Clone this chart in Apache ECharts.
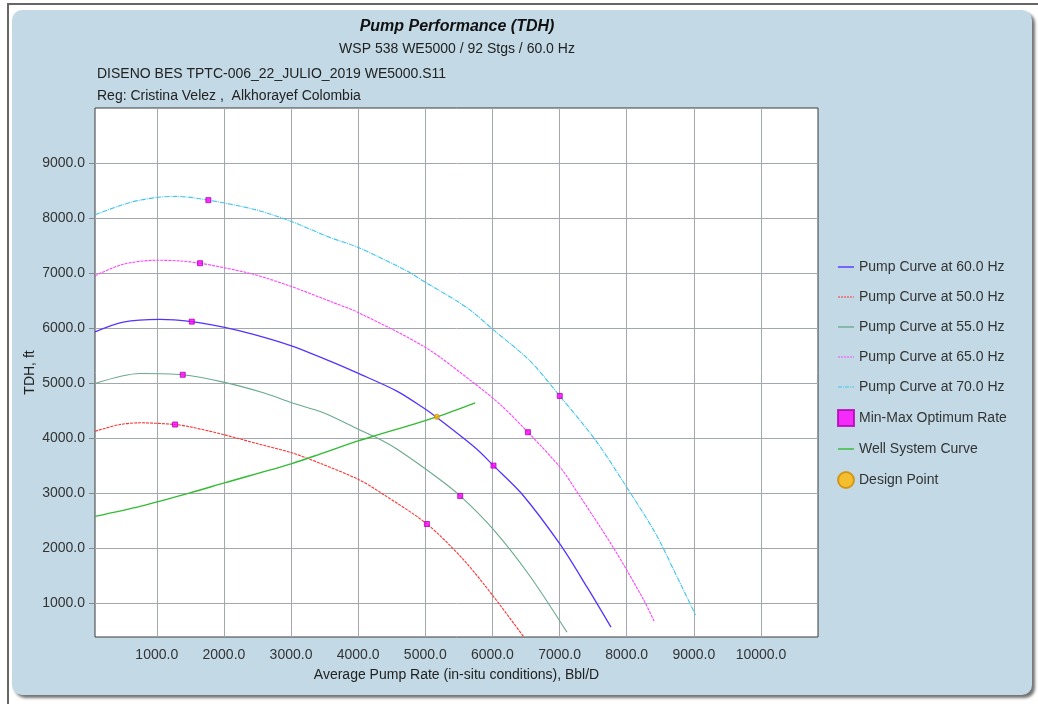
<!DOCTYPE html>
<html><head><meta charset="utf-8">
<script src="https://cdn.jsdelivr.net/npm/echarts@6/dist/echarts.min.js"></script>
<style>
html,body{margin:0;padding:0;background:#fff;width:1038px;height:704px;overflow:hidden;}
#frame{position:absolute;left:7px;top:3px;width:1031px;height:701px;border-left:2px solid #666;border-top:2px solid #666;box-sizing:border-box;}
#card{position:absolute;left:12px;top:10px;width:1020px;height:685px;background:#c3dae6;border-radius:10px;box-shadow:3px 3px 3px rgba(0,0,0,0.55);}
#chart{position:absolute;left:0;top:0;width:1038px;height:704px;}
</style></head>
<body><div id="frame"></div><div id="card"></div><div id="chart"></div>
<script>
const FONT = "'Liberation Sans', Arial, sans-serif";

const titleMain = 'Pump Performance (TDH)';
const titleSub = 'WSP 538 WE5000 / 92 Stgs / 60.0 Hz';
const titleLine3 = 'DISENO BES TPTC-006_22_JULIO_2019 WE5000.S11';
const titleLine4 = 'Reg: Cristina Velez ,  Alkhorayef Colombia';
const xAxisName = 'Average Pump Rate (in-situ conditions), Bbl/D';
const yAxisName = 'TDH, ft';

const xTicks = [1000, 2000, 3000, 4000, 5000, 6000, 7000, 8000, 9000, 10000];
const yTicks = [1000, 2000, 3000, 4000, 5000, 6000, 7000, 8000, 9000];

const seriesNames = ['Pump Curve at 60.0 Hz', 'Pump Curve at 50.0 Hz', 'Pump Curve at 55.0 Hz',
  'Pump Curve at 65.0 Hz', 'Pump Curve at 70.0 Hz', 'Min-Max Optimum Rate', 'Well System Curve', 'Design Point'];

const curve60 = [[80,5930],[500,6108],[1050,6157],[1522,6115],[1993,6016],[2440,5883],[2984,5683],[3580,5397],
  [4004,5173],[4577,4851],[5009,4517],[5147,4395],[5744,3820],[6016,3497],[6440,2980],[7012,2058],[7408,1290],[7766,559]];
const curve50 = [[80,4122],[453,4244],[751,4275],[1273,4244],[1496,4202],[1993,4062],[2490,3898],[3012,3729],
  [3483,3515],[4010,3242],[4328,3011],[5024,2435],[5569,1785],[6016,1117],[6463,388]];
const curve55 = [[80,4991],[751,5173],[1387,5149],[1993,5015],[2589,4821],[3012,4639],[3483,4457],[4010,4153],
  [4279,4002],[4587,3789],[5177,3280],[5520,2945],[6016,2332],[6563,1481],[7110,468]];
const curve65 = [[80,6950],[500,7158],[1000,7231],[1347,7219],[1645,7177],[1993,7098],[2440,6976],[2984,6763],
  [3632,6461],[4004,6279],[5009,5641],[5718,5004],[6116,4608],[6529,4104],[7012,3460],[7260,3020],[7805,1998],[8252,1056],[8412,661]];
const curve70 = [[80,8060],[600,8282],[1000,8373],[1300,8392],[1769,8324],[2440,8160],[2984,7947],[3580,7645],
  [4004,7463],[4726,7036],[5009,6825],[5620,6370],[6007,5974],[6560,5400],[7003,4764],[7533,3964],[7979,3145],[8425,2273],[8722,1545],[9025,780]];
const optimumRate = [[1273,4244],[5024,2435],[1387,5149],[5520,2945],[1522,6115],[6016,3497],
  [1645,7177],[6529,4104],[1769,8324],[7003,4764]];
const wellCurve = [[80,2574],[751,2756],[1496,3000],[2007,3182],[3012,3534],[3483,3729],[4010,3950],
  [4279,4050],[5172,4384],[5744,4639]];
const designPoint = [[5172,4384]];

const chart = echarts.init(document.getElementById('chart'), null, {renderer:'canvas'});

function lineSeries(name, data, color, width, type) {
  return {
    name: name, type: 'line', data: data, showSymbol: false, symbol: 'none',
    smooth: 0.3,
    lineStyle: {color: color, width: width, type: type},
    itemStyle: {color: color}, z: 3
  };
}

const iconSolid = 'path://M0,0 L16,0 L16,1.4 L0,1.4 Z';
const iconDotted = 'path://M0,0h2v1.2h-2z M3,0h2v1.2h-2z M6,0h2v1.2h-2z M9,0h2v1.2h-2z M12,0h2v1.2h-2z M15,0h1v1.2h-1z';
const iconDashDot = 'path://M0,0h4v1.2h-4z M5,0h1v1.2h-1z M7,0h4v1.2h-4z M12,0h1v1.2h-1z M14,0h2v1.2h-2z';

const option = {
  animation: false,
  textStyle: {fontFamily: FONT},
  graphic: [
    {type:'text', x:457, y:27, style:{text:titleMain, fill:'#111', font:'italic bold 16px ' + FONT, textAlign:'center', textVerticalAlign:'middle'}},
    {type:'text', x:457, y:49, style:{text:titleSub, fill:'#222', font:'14px ' + FONT, textAlign:'center', textVerticalAlign:'middle'}},
    {type:'text', x:97, y:74, style:{text:titleLine3, fill:'#222', font:'14px ' + FONT, textAlign:'left', textVerticalAlign:'middle'}},
    {type:'text', x:97, y:96, style:{text:titleLine4, fill:'#222', font:'14px ' + FONT, textAlign:'left', textVerticalAlign:'middle'}}
  ],
  grid: {left:95, top:108, width:723, height:529, show:true, backgroundColor:'#ffffff', borderColor:'#3a3a3a', borderWidth:1},
  legend: {
    orient:'vertical', left:832, top:254, itemWidth:16, itemHeight:16, itemGap:14,
    symbolKeepAspect:true,
    textStyle:{fontSize:14, color:'#333', fontFamily:FONT, lineHeight:16},
    data: [
      {name:seriesNames[0], icon:iconSolid}, {name:seriesNames[1], icon:iconDotted}, {name:seriesNames[2], icon:iconSolid},
      {name:seriesNames[3], icon:iconDotted}, {name:seriesNames[4], icon:iconDashDot},
      {name:seriesNames[5], icon:'rect'}, {name:seriesNames[6], icon:iconSolid}, {name:seriesNames[7], icon:'circle'}
    ],
    selectedMode:false
  },
  xAxis: {
    type:'value', min:80, max:10850,
    name:xAxisName, nameLocation:'middle', nameGap:31, nameMoveOverlap:false,
    nameTextStyle:{fontSize:14, color:'#222', fontFamily:FONT},
    axisLine:{show:false},
    axisTick:{show:false, customValues:xTicks},
    axisLabel:{customValues:xTicks, formatter:(v)=>Number(v).toFixed(1), fontSize:14, color:'#333', margin:11},
    splitLine:{show:true, lineStyle:{color:'#a3a8ad', width:1}}
  },
  yAxis: {
    type:'value', min:380, max:10000,
    name:yAxisName, nameLocation:'middle', nameGap:58, nameMoveOverlap:false,
    nameTextStyle:{fontSize:14, color:'#222', fontFamily:FONT},
    axisLine:{show:false},
    axisTick:{show:true, length:6, customValues:yTicks, lineStyle:{color:'#888'}},
    axisLabel:{customValues:yTicks, formatter:(v)=>Number(v).toFixed(1), fontSize:14, color:'#333', margin:10},
    splitLine:{show:true, lineStyle:{color:'#a3a8ad', width:1}}
  },
  series: [
    lineSeries(seriesNames[0], curve60, '#5533ff', 1.3, 'solid'),
    lineSeries(seriesNames[1], curve50, '#ff3333', 1.1, [3,1]),
    lineSeries(seriesNames[2], curve55, '#6aaa8c', 1.1, 'solid'),
    lineSeries(seriesNames[3], curve65, '#ff44ff', 1.1, [3,1]),
    lineSeries(seriesNames[4], curve70, '#3ec4f0', 1.1, [5,1,1,1]),
    {name:seriesNames[5], type:'scatter', data:optimumRate, symbol:'rect', symbolSize:5,
     itemStyle:{color:'#ff00ff', borderColor:'#b000b0', borderWidth:1}, z:5},
    lineSeries(seriesNames[6], wellCurve, '#33bb33', 1.4, 'solid'),
    {name:seriesNames[7], type:'scatter', data:designPoint, symbol:'circle', symbolSize:5,
     itemStyle:{color:'#ffb800', borderColor:'#d08a00', borderWidth:1}, z:6}
  ]
};
chart.setOption(option);
</script>
</body></html>
